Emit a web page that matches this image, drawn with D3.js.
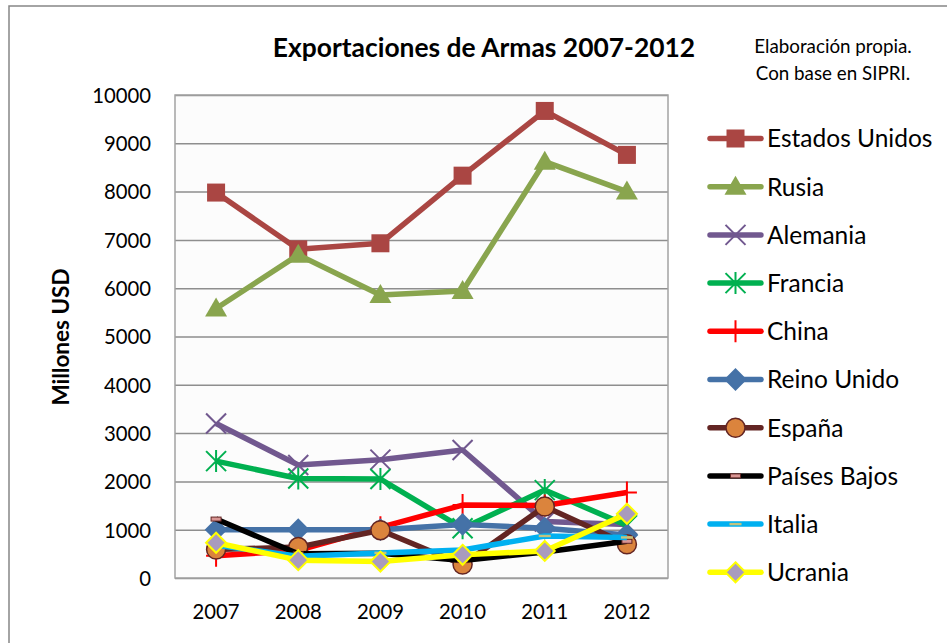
<!DOCTYPE html>
<html>
<head>
<meta charset="utf-8">
<script src="https://cdn.jsdelivr.net/npm/d3@7"></script>
<style>
  body { margin: 0; background: #fff; }
  svg text { font-family: Lato, "Open Sans", sans-serif; fill: #000; }
  .title { font-weight: bold; font-size: 26.4px; }
  .note { font-size: 18.8px; }
  .ylabel { font-weight: bold; font-size: 22.5px; }
  .axis text { font-size: 20.3px; }
  .legend text { font-size: 24.5px; }
</style>
</head>
<body>
<div id="chart"></div>
<script>
// data (millones USD)
var years = ["2007", "2008", "2009", "2010", "2011", "2012"];
var yTicks = [0, 1000, 2000, 3000, 4000, 5000, 6000, 7000, 8000, 9000, 10000];
var estadosUnidos = [7980, 6805, 6930, 8330, 9670, 8760];
var rusia = [5580, 6690, 5860, 5940, 8620, 8000];
var alemania = [3200, 2340, 2450, 2650, 1170, 1110];
var francia = [2420, 2060, 2050, 1030, 1820, 1090];
var china = [460, 570, 1050, 1510, 1500, 1770];
var reinoUnido = [1000, 1000, 1000, 1110, 1030, 890];
var espana = [590, 640, 990, 280, 1480, 700];
var paisesBajos = [1220, 500, 510, 360, 540, 760];
var italia = [680, 450, 520, 580, 870, 840];
var ucrania = [730, 370, 340, 480, 560, 1330];

var series = [
  { name: "Estados Unidos", values: estadosUnidos, color: "#aa4643", marker: "square", fill: "#aa4643", mstroke: "#aa4643" },
  { name: "Rusia", values: rusia, color: "#89a54e", marker: "triangle", fill: "#89a54e", mstroke: "#89a54e" },
  { name: "Alemania", values: alemania, color: "#71588f", marker: "x", fill: "none", mstroke: "#71588f" },
  { name: "Francia", values: francia, color: "#00b050", marker: "star", fill: "none", mstroke: "#00b050" },
  { name: "China", values: china, color: "#ff0000", marker: "plus", fill: "none", mstroke: "#ff0000" },
  { name: "Reino Unido", values: reinoUnido, color: "#4572a7", marker: "diamond", fill: "#4572a7", mstroke: "#4572a7" },
  { name: "España", values: espana, color: "#632523", marker: "circle", fill: "#db843d", mstroke: "#632523" },
  { name: "Países Bajos", values: paisesBajos, color: "#000000", marker: "dash", fill: "#d99694", mstroke: "#632523" },
  { name: "Italia", values: italia, color: "#00b0f0", marker: "dash2", fill: "#c3c37f", mstroke: "#c3c37f" },
  { name: "Ucrania", values: ucrania, color: "#ffff00", marker: "diamond", fill: "#a99bbd", mstroke: "#ffff00" }
];

var width = 947, height = 643;
var plot = { left: 175, top: 95, right: 668, bottom: 578 };

var svg = d3.select("#chart")
  .append("svg")
  .attr("width", width)
  .attr("height", height);

// outer frame
svg.append("path")
  .attr("d", "M9," + (height + 5) + "V6H" + (width + 5))
  .attr("fill", "none")
  .attr("stroke", "#868686")
  .attr("stroke-width", 1.5);

var x = d3.scaleBand()
  .domain(years)
  .range([plot.left, plot.right]);

var y = d3.scaleLinear()
  .domain([0, 10000])
  .range([plot.bottom, plot.top]);

function cx(i) { return x(years[i]) + x.bandwidth() / 2; }

// plot area
svg.append("rect")
  .attr("x", plot.left)
  .attr("y", plot.top)
  .attr("width", plot.right - plot.left)
  .attr("height", plot.bottom - plot.top)
  .attr("fill", "#fcfcfc");

// y axis + grid
var yAxis = svg.append("g")
  .attr("class", "y axis")
  .attr("transform", "translate(" + plot.left + ",0)")
  .call(d3.axisLeft(y)
    .tickValues(yTicks)
    .tickSizeInner(-(plot.right - plot.left))
    .tickSizeOuter(0)
    .tickPadding(24)
    .tickFormat(d3.format("d")));
yAxis.select(".domain").remove();
yAxis.selectAll(".tick line")
  .attr("stroke", "#8e8e8e")
  .attr("stroke-width", 1.5);
yAxis.selectAll(".tick text")
  .attr("dy", "0.36em");

// plot border
svg.append("rect")
  .attr("x", plot.left)
  .attr("y", plot.top)
  .attr("width", plot.right - plot.left)
  .attr("height", plot.bottom - plot.top)
  .attr("fill", "none")
  .attr("stroke", "#a3a3a3")
  .attr("stroke-width", 1.5);

// x axis labels
var xAxis = svg.append("g")
  .attr("class", "x axis")
  .attr("transform", "translate(0," + plot.bottom + ")")
  .call(d3.axisBottom(x).tickSize(0).tickPadding(27));
xAxis.select(".domain").remove();

// labels
svg.append("text")
  .attr("class", "title")
  .attr("x", 484)
  .attr("y", 57)
  .style("text-anchor", "middle")
  .text("Exportaciones de Armas 2007-2012");

svg.append("text")
  .attr("class", "note")
  .attr("x", 833)
  .attr("y", 53)
  .style("text-anchor", "middle")
  .text("Elaboración propia.");
svg.append("text")
  .attr("class", "note")
  .attr("x", 833)
  .attr("y", 80)
  .style("text-anchor", "middle")
  .text("Con base en SIPRI.");

svg.append("text")
  .attr("class", "ylabel")
  .attr("transform", "translate(69,337)rotate(-90)")
  .style("text-anchor", "middle")
  .text("Millones USD");

/* draw one marker of series s at (px, py) */
function drawMarker(g, s, px, py) {
  var m = g.append("g").attr("transform", "translate(" + px + "," + py + ")");
  switch (s.marker) {
    case "square":
      m.append("rect").attr("x", -9).attr("y", -9).attr("width", 18).attr("height", 18)
        .attr("fill", s.fill);
      break;
    case "triangle":
      m.append("path").attr("d", "M0,-11L11,8L-11,8Z").attr("fill", s.fill);
      break;
    case "x":
      m.append("path").attr("d", "M-10,-10L10,10M-10,10L10,-10")
        .attr("stroke", s.mstroke).attr("stroke-width", 2);
      break;
    case "star":
      m.append("path").attr("d", "M-10,-10L10,10M-10,10L10,-10M0,-11V11")
        .attr("stroke", s.mstroke).attr("stroke-width", 2);
      break;
    case "plus":
      m.append("path").attr("d", "M-10,0H10M0,-11V11")
        .attr("stroke", s.mstroke).attr("stroke-width", 2);
      break;
    case "diamond":
      m.append("path").attr("d", "M0,-10L10,0L0,10L-10,0Z")
        .attr("fill", s.fill).attr("stroke", s.mstroke).attr("stroke-width", 2);
      break;
    case "circle":
      m.append("circle").attr("r", 9.5)
        .attr("fill", s.fill).attr("stroke", s.mstroke).attr("stroke-width", 1.5);
      break;
    case "dash":
      m.append("rect").attr("x", -5).attr("y", -2).attr("width", 10).attr("height", 4)
        .attr("fill", s.fill).attr("stroke", s.mstroke).attr("stroke-width", 1);
      break;
    case "dash2":
      m.append("rect").attr("x", -6).attr("y", -1.2).attr("width", 12).attr("height", 2.4)
        .attr("fill", s.fill);
      break;
  }
}

// lines and markers
var line = d3.line()
  .x(function(d, i) { return cx(i); })
  .y(function(d) { return y(d); });

var marks = svg.append("g").attr("class", "series");
series.forEach(function(s) {
  var g = marks.append("g");
  g.append("path")
    .datum(s.values)
    .attr("d", line)
    .attr("fill", "none")
    .attr("stroke", s.color)
    .attr("stroke-width", 5.5)
    .attr("stroke-linejoin", "round");
  s.values.forEach(function(v, i) {
    drawMarker(g, s, cx(i), y(v));
  });
});

// legend
var legend = svg.append("g").attr("class", "legend");
series.forEach(function(s, i) {
  var ly = 138.5 + i * 48.2;
  var g = legend.append("g");
  g.append("line")
    .attr("x1", 710).attr("x2", 761)
    .attr("y1", ly).attr("y2", ly)
    .attr("stroke", s.color)
    .attr("stroke-width", 5.5)
    .attr("stroke-linecap", "round");
  drawMarker(g, s, 735.5, ly);
  g.append("text")
    .attr("x", 767)
    .attr("y", ly)
    .attr("dy", "0.36em")
    .text(s.name);
});
</script>
</body>
</html>
